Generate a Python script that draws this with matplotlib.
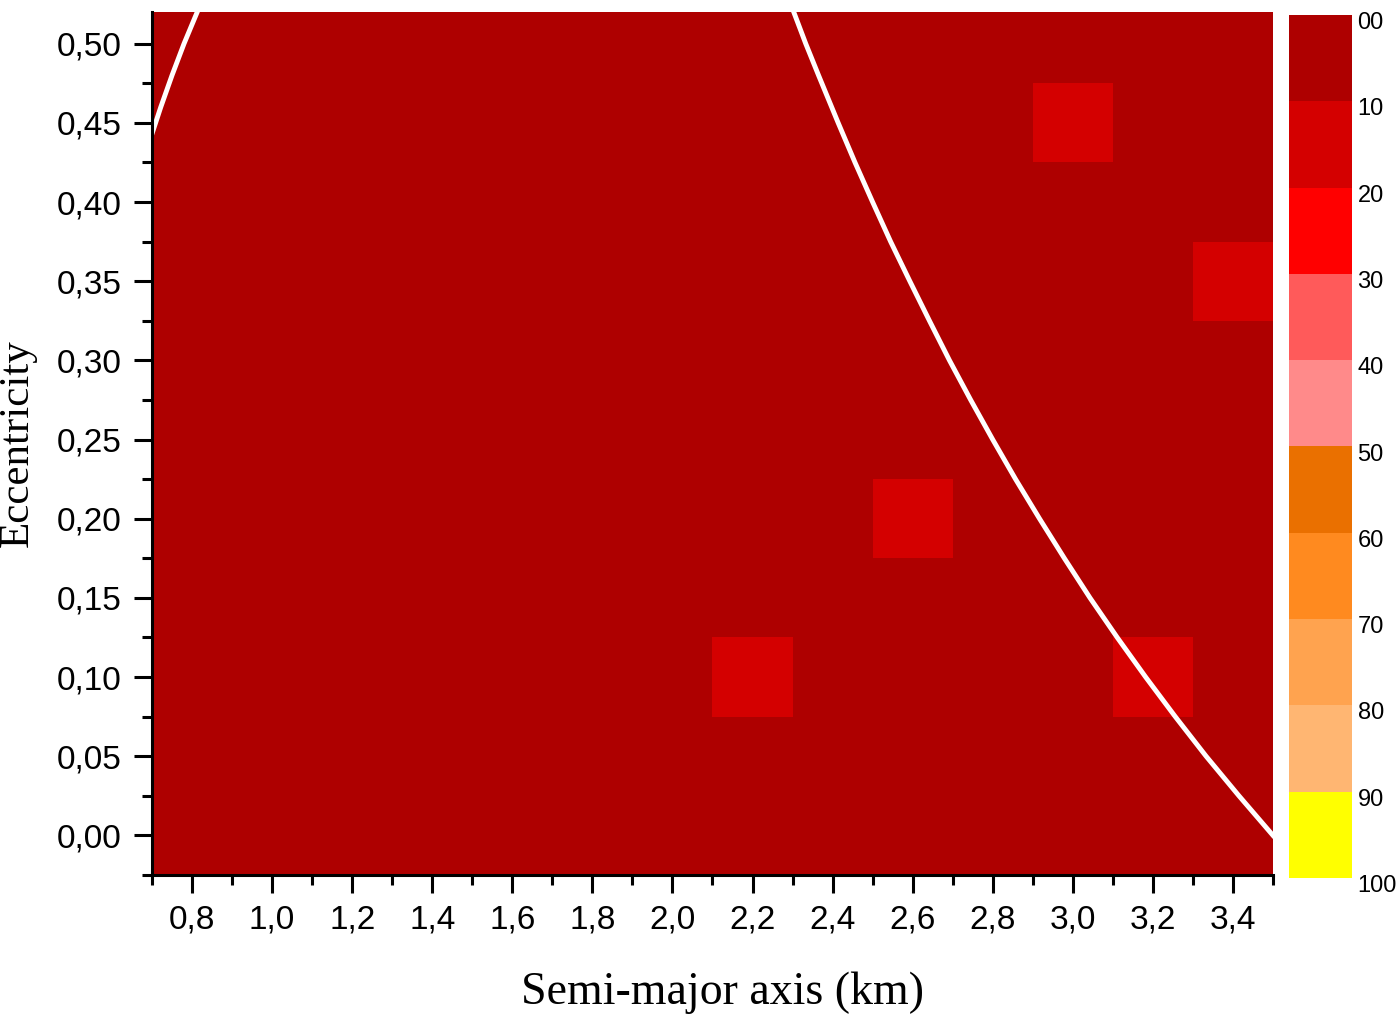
import numpy as np
import matplotlib
matplotlib.use('Agg')
import matplotlib.pyplot as plt
import matplotlib.transforms as mtransforms
from matplotlib.colors import ListedColormap, BoundaryNorm
from matplotlib.ticker import MultipleLocator, FuncFormatter

# grid of simulations (cell centres)
semi_major = [0.8, 1.0, 1.2, 1.4, 1.6, 1.8, 2.0, 2.2, 2.4, 2.6, 2.8, 3.0, 3.2, 3.4]
eccentricity = [0.00, 0.05, 0.10, 0.15, 0.20, 0.25, 0.30, 0.35, 0.40, 0.45, 0.50]
base_value = 5
# cells falling in the 10-20 band: (a, e, value)
hot_cells = [(2.2, 0.10, 15), (3.2, 0.10, 15), (2.6, 0.20, 15),
             (3.4, 0.35, 15), (3.0, 0.45, 15)]

levels = [0, 10, 20, 30, 40, 50, 60, 70, 80, 90, 100]
level_labels = ['00', '10', '20', '30', '40', '50', '60', '70', '80', '90', '100']
level_colors = ['#AE0000', '#D40000', '#FF0000', '#FF5A5A', '#FF8A8A',
                '#EA7000', '#FF8A1F', '#FFA34F', '#FFB672', '#FFFF00']

# white boundary curves
left_a = [0.696, 0.722, 0.750, 0.780, 0.813]
left_e = [0.44, 0.46, 0.48, 0.50, 0.52]
right_a = [2.303, 2.333, 2.365, 2.414, 2.456, 2.500, 2.545, 2.593, 2.642, 2.692,
           2.745, 2.800, 2.857, 2.917, 2.979, 3.043, 3.111, 3.182, 3.256, 3.333,
           3.415, 3.500]
right_e = [0.52, 0.50, 0.48, 0.45, 0.425, 0.40, 0.375, 0.35, 0.325, 0.30,
           0.275, 0.25, 0.225, 0.20, 0.175, 0.15, 0.125, 0.10, 0.075, 0.05,
           0.025, 0.00]

z = np.full((len(eccentricity), len(semi_major)), float(base_value))
for a, e, v in hot_cells:
    z[eccentricity.index(e), semi_major.index(a)] = v

xa = np.array(semi_major)
ya = np.array(eccentricity)
xedges = np.concatenate([xa - 0.1, [xa[-1] + 0.1]])
yedges = np.concatenate([ya - 0.025, [ya[-1] + 0.025]])

cmap = ListedColormap(level_colors)
norm = BoundaryNorm(levels, cmap.N)

fig = plt.figure(figsize=(13.97, 10.18), dpi=100)
ax = fig.add_axes([0.1088, 0.1405, 0.8024, 0.8477])
mesh = ax.pcolormesh(xedges, yedges, z, cmap=cmap, norm=norm, shading='flat')
ax.plot(left_a, left_e, color='white', lw=3.5)
ax.plot(right_a, right_e, color='white', lw=3.5)

ax.set_xlim(0.7, 3.5)
ax.set_ylim(-0.025, 0.52)

for s in ['top', 'right']:
    ax.spines[s].set_visible(False)
for s in ['left', 'bottom']:
    ax.spines[s].set_linewidth(2.2)

ax.xaxis.set_major_locator(MultipleLocator(0.2))
ax.xaxis.set_minor_locator(MultipleLocator(0.1))
ax.yaxis.set_major_locator(MultipleLocator(0.05))
ax.yaxis.set_minor_locator(MultipleLocator(0.025))
ax.xaxis.set_major_formatter(FuncFormatter(lambda v, p: f'{v:.1f}'.replace('.', ',')))
ax.yaxis.set_major_formatter(FuncFormatter(lambda v, p: f'{v:.2f}'.replace('.', ',')))
ax.tick_params(which='major', direction='out', length=13, width=2.2,
               labelsize=24, pad=8)
ax.tick_params(axis='y', which='major', pad=9)
ax.tick_params(which='minor', direction='out', length=7, width=2.2)
for lab in ax.get_xticklabels() + ax.get_yticklabels():
    lab.set_fontfamily('Liberation Sans')

ax.set_xlabel('Semi-major axis (km)', fontfamily='Liberation Serif', fontsize=33, labelpad=26)
ax.xaxis.label.set_x(0.509)
ax.set_ylabel('Eccentricity', fontfamily='Liberation Serif', fontsize=31, labelpad=14)

cax = fig.add_axes([0.9227, 0.1375, 0.0451, 0.8478])
cb = fig.colorbar(mesh, cax=cax, ticks=levels)
cb.outline.set_visible(False)
cax.invert_yaxis()
cb.set_ticklabels(level_labels)
cax.tick_params(length=0, pad=4, labelsize=17)
shift = mtransforms.ScaledTranslation(0, -4 / 72, fig.dpi_scale_trans)
for lab in cax.get_yticklabels():
    lab.set_fontfamily('Liberation Sans')
    lab.set_transform(lab.get_transform() + shift)

fig.savefig('out.png', dpi=100)
